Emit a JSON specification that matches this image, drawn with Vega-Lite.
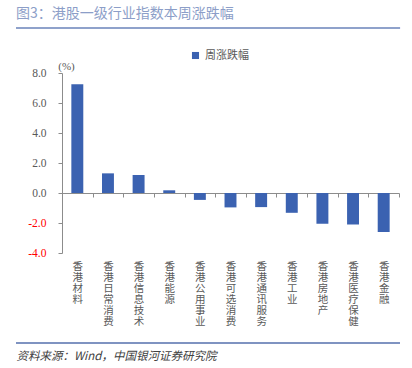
{
  "$schema": "https://vega.github.io/schema/vega-lite/v6.json",
  "width": 337,
  "height": 180,
  "autosize": {"type": "none"},
  "padding": {"left": 62, "top": 73, "right": 13, "bottom": 115},
  "background": "white",
  "title": {
    "text": "图3：港股一级行业指数本周涨跌幅",
    "anchor": "start",
    "frame": "group",
    "dx": -46,
    "offset": 6,
    "font": "Noto Sans CJK SC",
    "fontSize": 14,
    "fontWeight": "normal",
    "color": "#8c9ec8"
  },
  "config": {"view": {"stroke": null}},
  "data": {
    "values": [
      {"cat": "香港材料", "value": 7.25},
      {"cat": "香港日常消费", "value": 1.31},
      {"cat": "香港信息技术", "value": 1.2},
      {"cat": "香港能源", "value": 0.18},
      {"cat": "香港公用事业", "value": -0.46},
      {"cat": "香港可选消费", "value": -0.96},
      {"cat": "香港通讯服务", "value": -0.94},
      {"cat": "香港工业", "value": -1.32},
      {"cat": "香港房地产", "value": -2.05},
      {"cat": "香港医疗保健", "value": -2.1},
      {"cat": "香港金融", "value": -2.6}
    ]
  },
  "layer": [
    {
      "mark": {"type": "bar", "width": {"band": 0.39}},
      "encoding": {
        "x": {
          "field": "cat",
          "type": "nominal",
          "sort": null,
          "scale": {"paddingInner": 0, "paddingOuter": 0},
          "axis": {
            "orient": "bottom",
            "offset": -60,
            "domainColor": "#8c8c8c",
            "tickColor": "#8c8c8c",
            "tickSize": 4,
            "tickBand": "extent",
            "labelExpr": "split(datum.label, '')",
            "labelAngle": 0,
            "labelAlign": "center",
            "labelBaseline": "top",
            "labelPadding": 64,
            "labelOverlap": false,
            "labelFont": "Noto Sans CJK SC",
            "labelFontSize": 10.5,
            "labelLineHeight": 11,
            "labelColor": "#595959",
            "title": "资料来源：Wind，中国银河证券研究院",
            "titleX": -46,
            "titleY": 163,
            "titleAlign": "left",
            "titleAnchor": null,
            "titleBaseline": "middle",
            "titleFont": "Noto Sans CJK SC",
            "titleFontSize": 11.5,
            "titleFontStyle": "italic",
            "titleFontWeight": "normal",
            "titleColor": "#404040"
          }
        },
        "y": {
          "field": "value",
          "type": "quantitative",
          "scale": {"domain": [-4, 8], "nice": false},
          "axis": {
            "values": [-4, -2, 0, 2, 4, 6, 8],
            "labelExpr": "replace(format(datum.value, '.1f'), '−', '-')",
            "labelOverlap": false,
            "grid": false,
            "domainColor": "#8c8c8c",
            "tickColor": "#8c8c8c",
            "tickSize": 4,
            "labelFont": "Liberation Serif",
            "labelFontSize": 11.5,
            "labelColor": {"condition": {"test": "datum.value < 0", "value": "#ff0000"}, "value": "#595959"},
            "labelPadding": 12,
            "title": "(%)",
            "titleAngle": 0,
            "titleX": 4,
            "titleY": -7,
            "titleAlign": "center",
            "titleBaseline": "middle",
            "titleFont": "Liberation Serif",
            "titleFontSize": 11,
            "titleFontWeight": "normal",
            "titleColor": "#595959"
          }
        },
        "color": {
          "datum": "周涨跌幅",
          "scale": {"range": ["#3b62b1"]},
          "legend": {
            "orient": "none",
            "legendX": 128,
            "legendY": -23,
            "title": null,
            "symbolType": "square",
            "symbolSize": 50,
            "symbolStrokeWidth": 0,
            "labelFont": "Noto Sans CJK SC",
            "labelFontSize": 11,
            "labelColor": "#595959"
          }
        }
      }
    },
    {
      "layer": [
        {
          "mark": {"type": "rule", "color": "#8fa2cb", "strokeWidth": 2},
          "encoding": {
            "x": {"datum": -0.1365, "type": "quantitative", "scale": {"domain": [0, 1], "nice": false, "zero": false}, "axis": null},
            "x2": {"datum": 1.003},
            "y": {"datum": 11, "axis": null}
          }
        },
        {
          "mark": {"type": "rule", "color": "#7f93c0", "strokeWidth": 1.5},
          "encoding": {
            "x": {"datum": -0.1365, "type": "quantitative", "scale": {"domain": [0, 1], "nice": false, "zero": false}, "axis": null},
            "x2": {"datum": 1.003},
            "y": {"datum": -10, "axis": null}
          }
        }
      ]
    }
  ],
  "resolve": {"scale": {"x": "independent"}, "axis": {"y": "independent"}}
}
